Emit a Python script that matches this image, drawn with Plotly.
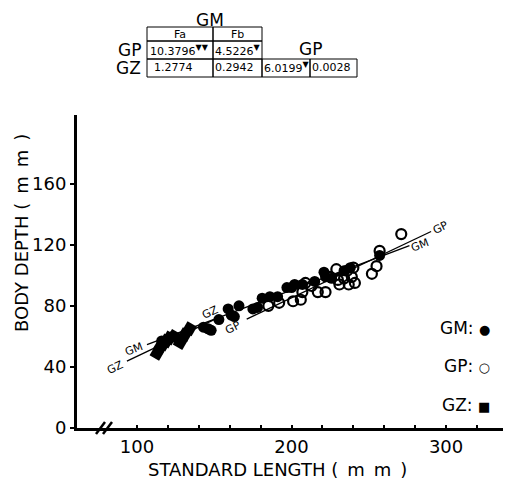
import plotly.graph_objects as go

# GM : filled circles
gm_x = [116, 120, 123, 143, 146, 148, 153, 159, 161, 163, 166, 175, 178, 181, 186, 191,
        197, 200, 202, 207, 215, 221, 222, 226, 234, 238, 257]
gm_y = [57, 58, 60, 66, 65, 64, 71, 78, 74, 73, 80, 78, 79, 85, 86, 86,
        92, 92, 94, 94, 96, 102, 99, 98, 103, 105, 113]

# GP : open circles
gp_x = [185, 192, 201, 206, 207, 209, 213, 217, 222, 225, 229, 230, 231, 234, 236, 237,
        239, 240, 241, 252, 255, 257, 271]
gp_y = [80, 82, 83, 84, 89, 95, 93, 89, 89, 99, 104, 97, 94, 98, 103, 94,
        99, 105, 95, 101, 106, 116, 127]

# GZ : filled squares
gz_x = [113, 115, 117, 119, 121, 124, 128, 131, 134]
gz_y = [49, 53, 55, 57, 59, 60, 56, 61, 65]

# regression lines (end points)
gm_line_x = [106.5, 276.3]
gm_line_y = [54.6, 119.4]
gp_line_x = [171, 290.3]
gp_line_y = [71.3, 128.7]
gz_line_x = [93.5, 152]
gz_line_y = [43.8, 72]

# F-test table
table_cols = ["Fa", "Fb"]
gp_row = ["10.3796", "4.5226"]
gz_row = ["1.2774", "0.2942", "6.0199", "0.0028"]

FONT = "DejaVu Sans"
# page coordinates of the plot area; the page body adds an 8px margin
OFF = 8
W, H = 511 - OFF, 487 - OFF
L, R, T, B = 77, 511, 115, 428


def px(x):
    return (x - L) / (R - L)


def py(y):
    return (B - y) / (B - T)


fig = go.Figure()

for lx, ly in [(gm_line_x, gm_line_y), (gp_line_x, gp_line_y), (gz_line_x, gz_line_y)]:
    fig.add_trace(go.Scatter(x=lx, y=ly, mode="lines", line=dict(color="black", width=1.3),
                             hoverinfo="skip"))

fig.add_trace(go.Scatter(x=gz_x, y=gz_y, mode="markers", name="GZ",
                         marker=dict(symbol="square", size=11, color="black", angle=30)))
fig.add_trace(go.Scatter(x=gm_x, y=gm_y, mode="markers", name="GM",
                         marker=dict(symbol="circle", size=11, color="black")))
fig.add_trace(go.Scatter(x=gp_x, y=gp_y, mode="markers", name="GP",
                         marker=dict(symbol="circle-open", size=10, color="black",
                                     line=dict(width=2.2))))

ann = []


def text(x, y, s, size, xanchor="center", ref="paper", angle=0, yanchor="middle"):
    ann.append(dict(x=x, y=y, xref=ref, yref=ref if ref == "paper" else "y", text=s,
                    showarrow=False, xanchor=xanchor, yanchor=yanchor, textangle=angle,
                    font=dict(family=FONT, size=size, color="black")))


# line labels
text(97.8, 51.4, "GM", 11, ref="x", angle=-21)
text(282.8, 119.5, "GM", 11, ref="x", angle=-21)
text(86, 39.5, "GZ", 11, ref="x", angle=-25)
text(147.3, 75.6, "GZ", 11, ref="x", angle=-25)
text(162.4, 66.1, "GP", 11, ref="x", angle=-26)
text(296.8, 131, "GP", 11, ref="x", angle=-26)

# legend
sym = "<span style='font-size:13px'>{}</span>"
text(px(492), py(328), "GM: " + sym.format("\u25cf"), 17, xanchor="right")
text(px(492), py(366), "GP: " + sym.format("\u25cb"), 17, xanchor="right")
text(px(492), py(405), "GZ: " + sym.format("\u25a0"), 17, xanchor="right")

# axis titles
text(px(277), py(469), "STANDARD LENGTH (\u2002m\u2002m\u2002)", 18)
text(px(21), py(233), "BODY DEPTH (\u2002m\u2002m\u2002)", 18, angle=-90)

# table
text(px(210), py(OFF), "GM", 17, yanchor="top")
text(px(180), py(34), table_cols[0], 11)
text(px(237), py(34), table_cols[1], 11)
text(px(143), py(50), "GP", 17, xanchor="right")
text(px(143), py(68), "GZ", 17, xanchor="right")
text(px(310), py(49), "GP", 17)
mark = "<sup><span style='font-size:8px'>\u25bc</span></sup>"
text(px(148), py(50), gp_row[0] + mark + mark, 11, xanchor="left")
text(px(213), py(50), gp_row[1] + mark, 11, xanchor="left")
text(px(152), py(68), gz_row[0], 11, xanchor="left")
text(px(213), py(68), gz_row[1], 11, xanchor="left")
text(px(262), py(68), gz_row[2] + mark, 11, xanchor="left")
text(px(310), py(68), gz_row[3], 11, xanchor="left")

shapes = []
cells = [(147, 27, 213, 41), (213, 27, 262, 41),
         (147, 41, 213, 59), (213, 41, 262, 59),
         (147, 59, 213, 77), (213, 59, 262, 77), (262, 59, 310, 77), (310, 59, 357, 77)]
for x0, y0, x1, y1 in cells:
    shapes.append(dict(type="rect", xref="paper", yref="paper", x0=px(x0), x1=px(x1),
                       y0=py(y1), y1=py(y0), line=dict(color="black", width=1)))

# axis break
for bx in [101, 108]:
    shapes.append(dict(type="line", xref="paper", yref="paper", x0=px(bx - 5), x1=px(bx + 4),
                       y0=py(434), y1=py(422), line=dict(color="black", width=2.5)))

xt = list(range(100, 341, 20))
fig.update_layout(
    width=W, height=H, showlegend=False,
    margin=dict(l=L - OFF, r=0, t=T - OFF, b=487 - B),
    plot_bgcolor="white", paper_bgcolor="white",
    annotations=ann, shapes=shapes,
    font=dict(family=FONT, size=17, color="black"),
    xaxis=dict(range=[61.2, 342], showgrid=False, zeroline=False, showline=True,
               linecolor="black", linewidth=3, ticks="inside", ticklen=3, tickwidth=2,
               tickcolor="black", tickvals=xt, tickfont=dict(size=18),
               ticktext=[str(v) if v % 100 == 0 else "" for v in xt]),
    yaxis=dict(range=[0, 205], showgrid=False, zeroline=False, showline=True,
               linecolor="black", linewidth=3, ticks="outside", ticklen=4, tickwidth=2,
               tickcolor="black", tickvals=[0, 40, 80, 120, 160], tickfont=dict(size=18)),
)

fig.write_html("out.html")
